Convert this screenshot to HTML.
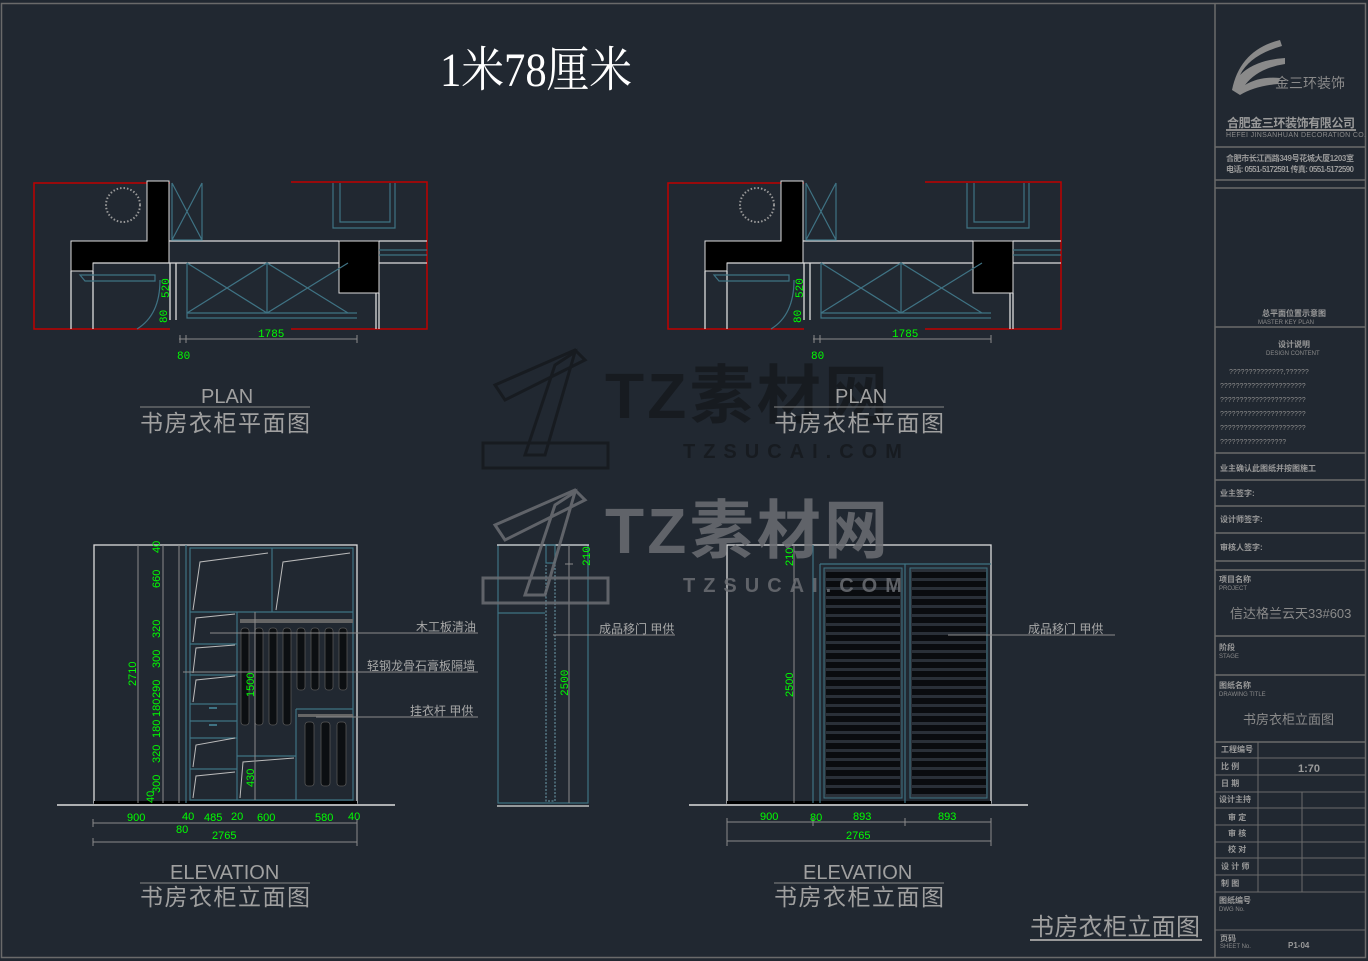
<!DOCTYPE html>
<html><head><meta charset="utf-8"><style>
html,body{margin:0;padding:0;background:#212831;}
svg{display:block}
text{font-family:"Liberation Sans","Noto Sans CJK SC",sans-serif;}
.g{fill:#00ff00;font-size:11px;font-family:"Liberation Mono","Noto Sans CJK SC",monospace;}
.w{stroke:#dcdcdc;fill:none;stroke-width:1.3}
.t{stroke:#3f7384;fill:none;stroke-width:1.2}
.d{stroke:#8a8a8a;fill:none;stroke-width:1}
.lb{fill:#a8a8a8;font-size:12px}
.tb{fill:#9a9a9a;font-size:8px;font-weight:bold}
text.serif{font-family:"Liberation Serif","Noto Serif CJK SC",serif;}
</style></head><body>
<svg width="1368" height="961" viewBox="0 0 1368 961" xmlns="http://www.w3.org/2000/svg">
<rect width="1368" height="961" fill="#212831"/>
<rect x="1.5" y="3.5" width="1364" height="954" fill="none" stroke="#6a6a6a" stroke-width="1.5"/>

<!-- dark watermark (behind) -->
<g>
<g fill="none" stroke="#171b20" stroke-width="3">
<polygon points="495,385 575,350 585,360 505,400"/>
<polygon points="555,365 575,352 545,455 525,455"/>
<rect x="483" y="443" width="125" height="25"/>
</g>
<text x="605" y="418" font-size="64" font-weight="bold" fill="#171b20" textLength="283">TZ素材网</text>
<text x="683" y="458" font-size="20" font-weight="bold" fill="#171b20" letter-spacing="8">TZSUCAI.COM</text>
</g>

<text class="serif" x="440" y="86" font-size="48" fill="#fff" textLength="192" lengthAdjust="spacingAndGlyphs">1米78厘米</text>

<defs>
<g id="plan">
<polyline points="170,183 34,183 34,329 170,329" fill="none" stroke="#c00000" stroke-width="1.5"/>
<polyline points="291,182 427,182 427,329 291,329" fill="none" stroke="#c00000" stroke-width="1.5"/>
<path d="M147,181 H169 V263 H93 V271 H71 V241 H147 Z" fill="#000" stroke="#ddd" stroke-width="1"/>
<rect x="339" y="241" width="40" height="52" fill="#000" stroke="#ddd" stroke-width="1"/>
<circle cx="123" cy="205" r="17" fill="none" stroke="#999" stroke-width="2" stroke-dasharray="1.5 2"/>
<path class="w" d="M169,241 H339 M93,263 H339 M379,241 H427 M379,263 H427 M376,293 V329 M379,293 V329 M71,271 V329 M93,271 V329"/>
<path class="t" d="M172,183 V240 H202 V183 M172,183 L202,240 M202,183 L172,240 M333,183 V228 H395 V183 M340,183 V222 H390 V183 M379,250 H427 M379,255 H427"/>
<path class="t" d="M187,263 V318 H357 M187,313 H357 M187,263 L267,313 L348,263 M187,313 L267,263 L348,313 M267,263 V313 M80,275 H155 V281 H85 Z M160,280 Q160,315 137,329"/>
<path class="w" d="M170,263 V320 M176,263 V320"/>
<path class="d" d="M179,339 H357 M180,335 V343 M186,335 V343 M357,335 V343"/>
<text class="g" x="258" y="337">1785</text>
<text class="g" x="169" y="298" transform="rotate(-90 169 298)">520</text>
<text class="g" x="167" y="323" transform="rotate(-90 167 323)">80</text>
<text class="g" x="177" y="359">80</text>
</g>
</defs>
<use href="#plan"/>
<use href="#plan" transform="translate(634,0)"/>

<g fill="#a0a0a0">
<text x="201" y="403" font-size="20">PLAN</text>
<text x="140" y="431" font-size="23" textLength="170">书房衣柜平面图</text>
<text x="835" y="403" font-size="20">PLAN</text>
<text x="774" y="431" font-size="23" textLength="170">书房衣柜平面图</text>
<text x="170" y="879" font-size="20">ELEVATION</text>
<text x="140" y="905" font-size="23" textLength="170">书房衣柜立面图</text>
<text x="803" y="879" font-size="20">ELEVATION</text>
<text x="774" y="905" font-size="23" textLength="170">书房衣柜立面图</text>
<text x="1030" y="935" font-size="24" textLength="170">书房衣柜立面图</text>
</g>
<path d="M140,407 H310 M774,407 H944 M140,883 H310 M774,883 H944" stroke="#888" stroke-width="1"/>
<path d="M1030,940 H1202" stroke="#999" stroke-width="2"/>

<!-- ELEVATION 1 -->
<rect x="94" y="545" width="263" height="258" class="w"/>
<path d="M57,805 H395" stroke="#ddd" stroke-width="1.5"/>
<rect x="94" y="801" width="263" height="3" fill="#000"/>
<path class="d" d="M138,545 V803 M163,545 V803 M179,545 V803"/>
<path class="t" d="M186,545 V803 M190,548 H353 V800 H190 Z M190,612 H353 M272,548 V612 M237,612 V800 M190,644 H237 M190,675 H237 M190,704 H237 M190,721 H237 M190,738 H237 M190,769 H237 M296,709 H353 M296,709 V800 M237,756 H296"/>
<path d="M193,610 L200,562 L268,553 M276,610 L283,562 L350,553 M193,642 L196,618 L235,614 M193,673 L196,648 L235,645 M193,702 L196,680 L235,676 M193,767 L196,745 L235,738 M193,798 L196,776 L235,772 M240,798 L243,762 L294,758" stroke="#bbb" fill="none" stroke-width="1"/>
<path d="M209,708 H217 M209,725 H217" stroke="#3f7384" stroke-width="2"/>
<rect x="240" y="619" width="113" height="4" fill="#666"/>
<rect x="298" y="714" width="55" height="3" fill="#666"/>
<g fill="#0c0f12" stroke="#555" stroke-width="0.8">
<rect x="241" y="628" width="8" height="97" rx="3"/><rect x="255" y="628" width="8" height="97" rx="3"/>
<rect x="269" y="628" width="8" height="97" rx="3"/><rect x="283" y="628" width="8" height="97" rx="3"/>
<rect x="297" y="628" width="8" height="62" rx="3"/><rect x="311" y="628" width="8" height="62" rx="3"/>
<rect x="325" y="628" width="8" height="62" rx="3"/><rect x="339" y="628" width="8" height="62" rx="3"/>
<rect x="305" y="722" width="9" height="64" rx="3"/><rect x="321" y="722" width="9" height="64" rx="3"/><rect x="337" y="722" width="9" height="64" rx="3"/>
</g>
<path class="d" d="M210,633 H478 M183,672 H478 M316,717 H478 M255,612 V800"/>
<text class="lb" x="416" y="631">木工板清油</text>
<text class="lb" x="367" y="670">轻钢龙骨石膏板隔墙</text>
<text class="lb" x="410" y="715">挂衣杆  甲供</text>
<g class="g">
<text x="160" y="553" transform="rotate(-90 160 553)">40</text>
<text x="160" y="588" transform="rotate(-90 160 588)">660</text>
<text x="160" y="638" transform="rotate(-90 160 638)">320</text>
<text x="160" y="668" transform="rotate(-90 160 668)">300</text>
<text x="160" y="698" transform="rotate(-90 160 698)">290</text>
<text x="160" y="717" transform="rotate(-90 160 717)">180</text>
<text x="160" y="738" transform="rotate(-90 160 738)">180</text>
<text x="160" y="763" transform="rotate(-90 160 763)">320</text>
<text x="160" y="793" transform="rotate(-90 160 793)">300</text>
<text x="154" y="803" transform="rotate(-90 154 803)">40</text>
<text x="136" y="686" transform="rotate(-90 136 686)">2710</text>
<text x="254" y="697" transform="rotate(-90 254 697)">1500</text>
<text x="254" y="787" transform="rotate(-90 254 787)">430</text>
<text x="127" y="821">900</text><text x="182" y="820">40</text><text x="204" y="821">485</text>
<text x="231" y="820">20</text><text x="257" y="821">600</text><text x="315" y="821">580</text><text x="348" y="820">40</text>
<text x="176" y="833">80</text><text x="212" y="839">2765</text>
</g>
<path class="d" d="M93,823 H357 M93,842 H357 M93,819 V827 M357,819 V846 M93,838 V846"/>

<!-- middle section -->
<rect x="498" y="545" width="90" height="258" class="t"/>
<path d="M497,545 H589 M497,806 H589" stroke="#ddd" stroke-width="1.3"/>
<path class="t" d="M498,613 H545"/>
<rect x="546" y="563" width="9" height="238" fill="none" stroke="#6f9fb0" stroke-width="1" stroke-dasharray="2 1.5"/>
<rect x="546" y="545" width="9" height="18" class="t"/>
<path class="d" d="M569,545 V803 M565,564 H573 M553,635 H675"/>
<text class="lb" x="599" y="633">成品移门   甲供</text>
<text class="g" x="590" y="566" transform="rotate(-90 590 566)">210</text>
<text class="g" x="568" y="696" transform="rotate(-90 568 696)">2500</text>

<!-- right elevation -->
<rect x="727" y="545" width="264" height="258" class="w"/>
<path d="M689,805 H1028" stroke="#ddd" stroke-width="1.5"/>
<rect x="727" y="801" width="264" height="3" fill="#000"/>
<path class="t" d="M813,545 V803 M820,564 H991 M820,564 V803 M905,564 V803"/>
<path class="d" d="M794,545 V803"/>
<rect x="824" y="568" width="78" height="230" fill="#2a3038" stroke="#3f7384"/>
<rect x="910" y="568" width="77" height="230" fill="#2a3038" stroke="#3f7384"/>
<g id="slats" fill="#0a0c0f">
<rect x="826" y="572" width="74" height="6"/><rect x="826" y="581" width="74" height="6"/><rect x="826" y="590" width="74" height="6"/><rect x="826" y="599" width="74" height="6"/><rect x="826" y="608" width="74" height="6"/><rect x="826" y="617" width="74" height="6"/><rect x="826" y="626" width="74" height="6"/><rect x="826" y="635" width="74" height="6"/><rect x="826" y="644" width="74" height="6"/><rect x="826" y="653" width="74" height="6"/><rect x="826" y="662" width="74" height="6"/><rect x="826" y="671" width="74" height="6"/><rect x="826" y="680" width="74" height="6"/><rect x="826" y="689" width="74" height="6"/><rect x="826" y="698" width="74" height="6"/><rect x="826" y="707" width="74" height="6"/><rect x="826" y="716" width="74" height="6"/><rect x="826" y="725" width="74" height="6"/><rect x="826" y="734" width="74" height="6"/><rect x="826" y="743" width="74" height="6"/><rect x="826" y="752" width="74" height="6"/><rect x="826" y="761" width="74" height="6"/><rect x="826" y="770" width="74" height="6"/><rect x="826" y="779" width="74" height="6"/><rect x="826" y="788" width="74" height="6"/>
</g>
<use href="#slats" transform="translate(86,0)"/>
<path class="d" d="M948,635 H1115 M727,822 H991 M727,841 H991 M727,818 V846 M991,818 V846 M905,818 V826 M813,818 V826"/>
<text class="lb" x="1028" y="633">成品移门   甲供</text>
<g class="g">
<text x="793" y="566" transform="rotate(-90 793 566)">210</text>
<text x="793" y="697" transform="rotate(-90 793 697)">2500</text>
<text x="760" y="820">900</text><text x="810" y="821">80</text><text x="853" y="820">893</text><text x="938" y="820">893</text>
<text x="846" y="839">2765</text>
</g>

<!-- title block -->
<g fill="none" stroke="#6a6a6a" stroke-width="1.5">
<path d="M1215,3 V957"/>
<path d="M1215,147 H1365 M1215,180 H1365 M1215,188 H1365 M1215,327 H1365 M1215,453 H1365 M1215,480 H1365 M1215,506 H1365 M1215,533 H1365 M1215,561 H1365 M1215,570 H1365 M1215,636 H1365 M1215,675 H1365 M1215,742 H1365"/>
<path d="M1215,758 H1365 M1215,775 H1365 M1215,792 H1365 M1215,808 H1365 M1215,825 H1365 M1215,842 H1365 M1215,858 H1365 M1215,875 H1365 M1215,892 H1365 M1215,930 H1365 M1258,742 V892 M1302,792 V892" stroke-width="1"/>
</g>
<path d="M1232,90 Q1240,50 1280,40 L1282,46 Q1250,55 1240,75 Q1255,60 1285,58 L1285,64 Q1258,68 1245,85 Q1260,76 1280,78 L1278,84 Q1255,86 1240,95 Z" fill="#8a8a8a"/>
<text x="1275" y="88" font-size="14" fill="#8a8a8a">金三环装饰</text>
<text x="1227" y="127" font-size="12" font-weight="bold" fill="#9a9a9a" textLength="128">合肥金三环装饰有限公司</text>
<path d="M1226,130 H1356" stroke="#8a8a8a" stroke-width="2"/>
<text x="1226" y="137" font-size="7" fill="#8a8a8a" textLength="140">HEFEI JINSANHUAN DECORATION CO.</text>
<text x="1226" y="161" class="tb" textLength="128">合肥市长江西路349号花城大厦1203室</text>
<text x="1226" y="172" class="tb" textLength="128">电话: 0551-5172591   传真: 0551-5172590</text>
<text x="1262" y="316" class="tb">总平面位置示意图</text>
<text x="1258" y="324" font-size="6" fill="#8a8a8a">MASTER KEY PLAN</text>
<text x="1278" y="347" class="tb">设计说明</text>
<text x="1266" y="355" font-size="6" fill="#8a8a8a">DESIGN CONTENT</text>
<g font-size="7" fill="#8a8a8a">
<text x="1229" y="374">??????????????,??????</text>
<text x="1220" y="388">??????????????????????</text>
<text x="1220" y="402">??????????????????????</text>
<text x="1220" y="416">??????????????????????</text>
<text x="1220" y="430">??????????????????????</text>
<text x="1220" y="444">?????????????????</text>
</g>
<text x="1220" y="471" class="tb">业主确认此图纸并按图施工</text>
<text x="1220" y="496" class="tb">业主签字:</text>
<text x="1220" y="522" class="tb">设计师签字:</text>
<text x="1220" y="550" class="tb">审核人签字:</text>
<text x="1219" y="582" class="tb">项目名称</text>
<text x="1219" y="590" font-size="6" fill="#8a8a8a">PROJECT</text>
<text x="1230" y="618" font-size="13" fill="#8a8a8a">信达格兰云天33#603</text>
<text x="1219" y="650" class="tb">阶段</text>
<text x="1219" y="658" font-size="6" fill="#8a8a8a">STAGE</text>
<text x="1219" y="688" class="tb">图纸名称</text>
<text x="1219" y="696" font-size="6" fill="#8a8a8a">DRAWING TITLE</text>
<text x="1243" y="724" font-size="13" fill="#8a8a8a">书房衣柜立面图</text>
<text x="1221" y="752" class="tb">工程编号</text>
<text x="1221" y="769" class="tb">比 例</text>
<text x="1298" y="772" font-size="11" font-weight="bold" fill="#9a9a9a">1:70</text>
<text x="1221" y="786" class="tb">日 期</text>
<text x="1219" y="802" class="tb">设计主持</text>
<text x="1228" y="820" class="tb">审 定</text>
<text x="1228" y="836" class="tb">审 核</text>
<text x="1228" y="852" class="tb">校 对</text>
<text x="1221" y="869" class="tb">设 计 师</text>
<text x="1221" y="886" class="tb">制 图</text>
<text x="1219" y="903" class="tb">图纸编号</text>
<text x="1219" y="911" font-size="6" fill="#8a8a8a">DWG No.</text>
<text x="1220" y="941" class="tb">页码</text>
<text x="1220" y="948" font-size="6" fill="#8a8a8a">SHEET No.</text>
<text x="1288" y="948" class="tb">P1-04</text>

<!-- gray watermark on top -->
<g opacity="0.85">
<g fill="none" stroke="#6b6e73" stroke-width="3">
<polygon points="495,525 575,490 585,500 505,540"/>
<polygon points="555,505 575,492 545,595 525,595"/>
<rect x="483" y="578" width="125" height="25"/>
</g>
<text x="605" y="553" font-size="64" font-weight="bold" fill="#6b6e73" textLength="283">TZ素材网</text>
<text x="683" y="592" font-size="20" font-weight="bold" fill="#6b6e73" letter-spacing="8">TZSUCAI.COM</text>
</g>
</svg>
</body></html>
